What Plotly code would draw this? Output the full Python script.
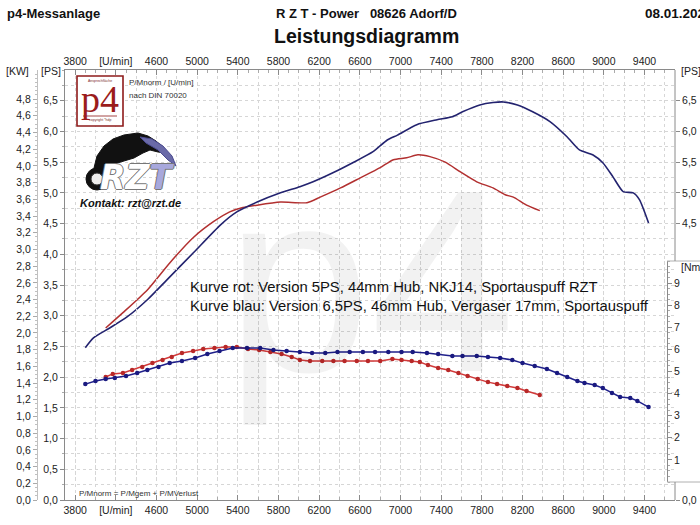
import plotly.graph_objects as go

# ---------------- data ----------------
blue_power_rpm = [3900, 3980, 4140, 4310, 4510, 4700, 4960, 5230, 5390, 5590, 5820, 6010, 6140,
                  6340, 6530, 6730, 6870, 6970, 7160, 7360, 7510, 7610, 7780, 7910, 8010, 8150,
                  8300, 8470, 8640, 8760, 8890, 8990, 9090, 9190, 9290, 9350, 9440]
blue_power_ps = [2.48, 2.64, 2.80, 2.98, 3.26, 3.58, 4.02, 4.48, 4.69, 4.85, 5.00, 5.10, 5.18,
                 5.33, 5.49, 5.67, 5.86, 5.94, 6.11, 6.19, 6.24, 6.32, 6.43, 6.47, 6.48, 6.43,
                 6.32, 6.16, 5.91, 5.70, 5.62, 5.49, 5.26, 5.02, 5.00, 4.89, 4.51]

red_power_rpm = [4100, 4270, 4510, 4730, 4960, 5160, 5320, 5450, 5590, 5820, 6080, 6210, 6410,
                 6600, 6800, 6930, 7060, 7170, 7290, 7440, 7590, 7750, 7910, 8030, 8110, 8240, 8370]
red_power_ps = [2.80, 3.05, 3.42, 3.86, 4.27, 4.53, 4.69, 4.76, 4.80, 4.85, 4.84, 4.93, 5.08,
                5.24, 5.41, 5.54, 5.57, 5.62, 5.59, 5.50, 5.34, 5.18, 5.08, 4.97, 4.93, 4.80, 4.71]

blue_torque_rpm = [3900, 4000, 4100, 4190, 4300, 4410, 4510, 4620, 4730, 4850, 4980, 5100, 5220,
                   5350, 5490, 5620, 5750, 5880, 6010, 6130, 6260, 6380, 6500, 6630, 6750, 6880,
                   7010, 7120, 7260, 7370, 7510, 7610, 7750, 7860, 7980, 8100, 8200, 8320, 8440,
                   8540, 8640, 8740, 8810, 8910, 8990, 9080, 9160, 9260, 9330, 9440]
blue_torque_nm = [4.43, 4.57, 4.66, 4.71, 4.80, 4.93, 5.07, 5.20, 5.38, 5.48, 5.61, 5.79, 5.93,
                  6.06, 6.06, 6.06, 5.97, 5.93, 5.88, 5.84, 5.84, 5.88, 5.88, 5.88, 5.88, 5.88,
                  5.88, 5.88, 5.84, 5.79, 5.70, 5.70, 5.70, 5.66, 5.61, 5.52, 5.38, 5.25, 5.11,
                  4.93, 4.75, 4.57, 4.48, 4.39, 4.25, 4.03, 3.85, 3.80, 3.67, 3.39]

red_torque_rpm = [4100, 4170, 4270, 4360, 4460, 4560, 4660, 4750, 4850, 4960, 5060, 5170, 5280,
                  5390, 5500, 5610, 5720, 5830, 5930, 6010, 6110, 6230, 6340, 6450, 6570, 6680,
                  6800, 6920, 7010, 7110, 7190, 7270, 7370, 7470, 7570, 7660, 7760, 7860, 7950,
                  8050, 8150, 8240, 8370]
red_torque_nm = [4.75, 4.89, 4.93, 5.07, 5.20, 5.38, 5.52, 5.66, 5.84, 5.93, 6.02, 6.06, 6.11,
                 6.11, 6.02, 5.97, 5.88, 5.79, 5.66, 5.52, 5.48, 5.48, 5.48, 5.48, 5.48, 5.48,
                 5.48, 5.57, 5.52, 5.48, 5.43, 5.29, 5.16, 5.07, 4.93, 4.80, 4.66, 4.52, 4.43,
                 4.34, 4.25, 4.12, 3.94]

rpm_ticks = [3800, 4200, 4600, 5000, 5400, 5800, 6200, 6600, 7000, 7400, 7800, 8200, 8600, 9000, 9400]
rpm_labels = ["3800", "[U/min]", "4600", "5000", "5400", "5800", "6200", "6600", "7000",
              "7400", "7800", "8200", "8600", "9000", "9400"]
ps_ticks = [0, 0.5, 1.0, 1.5, 2.0, 2.5, 3.0, 3.5, 4.0, 4.5, 5.0, 5.5, 6.0, 6.5]
ps_labels = ["0,0", "0,5", "1,0", "1,5", "2,0", "2,5", "3,0", "3,5", "4,0", "4,5", "5,0",
             "5,5", "6,0", "6,5"]
kw_ticks = [0, 0.2, 0.4, 0.6, 0.8, 1.0, 1.2, 1.4, 1.6, 1.8, 2.0, 2.2, 2.4, 2.6, 2.8, 3.0,
            3.2, 3.4, 3.6, 3.8, 4.0, 4.2, 4.4, 4.6, 4.8]
kw_labels = ["0,0", "0,2", "0,4", "0,6", "0,8", "1,0", "1,2", "1,4", "1,6", "1,8", "2,0",
             "2,2", "2,4", "2,6", "2,8", "3,0", "3,2", "3,4", "3,6", "3,8", "4,0", "4,2",
             "4,4", "4,6", "4,8"]
ps_right_ticks = [0, 4.5, 5.0, 5.5, 6.0, 6.5]
ps_right_labels = ["0,0", "4,5", "5,0", "5,5", "6,0", "6,5"]
nm_ticks = [1, 2, 3, 4, 5, 6, 7, 8, 9]
nm_labels = ["1", "2", "3", "4", "5", "6", "7", "8", "9"]

# ---------------- layout helpers ----------------
W, H = 700, 525
ML, MR, MT, MB = 37, 25, 70, 25
PW, PH = W - ML - MR, H - MT - MB


def fx(px):
    return (px - ML) / PW


def fy(py):
    return (H - MB - py) / PH


FONT = "Arial, Liberation Sans, sans-serif"
GRID = "#d6d6d6"
AX = "#8a8a8a"

fig = go.Figure()

fig.add_trace(go.Scatter(x=red_power_rpm, y=red_power_ps, mode="lines",
                         line=dict(color="#b23030", width=1.5, shape="spline", smoothing=0.6),
                         xaxis="x", yaxis="y", hoverinfo="skip"))
fig.add_trace(go.Scatter(x=blue_power_rpm, y=blue_power_ps, mode="lines",
                         line=dict(color="#23236f", width=1.6, shape="spline", smoothing=0.6),
                         xaxis="x", yaxis="y", hoverinfo="skip"))
fig.add_trace(go.Scatter(x=red_torque_rpm, y=red_torque_nm, mode="lines+markers",
                         line=dict(color="#d23a3a", width=1.5),
                         marker=dict(color="#b82828", size=4.5),
                         xaxis="x", yaxis="y4", hoverinfo="skip"))
fig.add_trace(go.Scatter(x=blue_torque_rpm, y=blue_torque_nm, mode="lines+markers",
                         line=dict(color="#1f1f8a", width=1.5),
                         marker=dict(color="#1a1a80", size=4.5),
                         xaxis="x", yaxis="y4", hoverinfo="skip"))
# empty traces so that every axis is drawn
fig.add_trace(go.Scatter(x=[None], y=[None], xaxis="x", yaxis="y3", showlegend=False))
fig.add_trace(go.Scatter(x=[None], y=[None], xaxis="x", yaxis="y2", showlegend=False))
fig.add_trace(go.Scatter(x=[None], y=[None], xaxis="x2", yaxis="y", showlegend=False))

tickfont = dict(family=FONT, size=10.5, color="#222")

fig.update_layout(
    width=W, height=H,
    margin=dict(l=ML, r=MR, t=MT, b=MB, pad=0, autoexpand=False),
    paper_bgcolor="white", plot_bgcolor="rgba(0,0,0,0)",
    showlegend=False, hovermode=False,
    font=dict(family=FONT, size=10.5, color="#222"),
    xaxis=dict(domain=[fx(65), 1], range=[3700, 9700], anchor="y", automargin=False,
               tickmode="array", tickvals=rpm_ticks, ticktext=rpm_labels, tickfont=tickfont,
               ticks="inside", ticklen=5, tickcolor=AX, showline=True, linecolor=AX,
               showgrid=True, gridcolor=GRID, griddash="dot", gridwidth=1, zeroline=False,
               minor=dict(tick0=3800, dtick=200, showgrid=True, gridcolor=GRID, griddash="dot",
                          ticks="inside", ticklen=3, tickcolor="#aaa")),
    xaxis2=dict(overlaying="x", side="top", anchor="y", range=[3700, 9700], automargin=False,
                tickmode="array", tickvals=rpm_ticks, ticktext=rpm_labels, tickfont=tickfont,
                ticks="inside", ticklen=5, tickcolor=AX, showline=True, linecolor=AX,
                showgrid=False, zeroline=False,
                minor=dict(tick0=3800, dtick=100, ticks="inside", ticklen=3, tickcolor="#aaa")),
    yaxis=dict(range=[0, 7], anchor="x", automargin=False, tickmode="array", tickvals=ps_ticks,
               ticktext=ps_labels, tickfont=tickfont, ticks="outside", ticklen=4,
               tickcolor=AX, showline=True, linecolor=AX, showgrid=True, gridcolor=GRID,
               griddash="dot", zeroline=False,
               minor=dict(dtick=0.25, showgrid=True, gridcolor=GRID, griddash="dot",
                          ticks="outside", ticklen=2, tickcolor="#aaa")),
    yaxis2=dict(overlaying="y", anchor="free", position=0, side="left", automargin=False,
                range=[0, 7 * 0.7355], tickmode="array", tickvals=kw_ticks, ticktext=kw_labels,
                tickfont=tickfont, ticks="outside", ticklen=4, tickcolor="#aaa",
                showline=True, linecolor="#c0c0c0", showgrid=False, zeroline=False,
                minor=dict(dtick=0.05, ticks="outside", ticklen=2, tickcolor="#c0c0c0")),
    yaxis3=dict(overlaying="y", anchor="x", side="right", range=[0, 7], automargin=False,
                tickmode="array", tickvals=ps_right_ticks, ticktext=ps_right_labels,
                tickfont=tickfont, ticks="outside", ticklen=4, tickcolor=AX,
                showline=False, showgrid=False, zeroline=False),
    yaxis4=dict(domain=[fy(482), fy(261)], anchor="free", position=fx(667), side="right",
                automargin=False,
                range=[0, 10], tickmode="array", tickvals=nm_ticks, ticktext=nm_labels,
                tickfont=tickfont, ticks="outside", ticklen=4, tickcolor=AX,
                showline=True, linecolor=AX, showgrid=False, zeroline=False,
                minor=dict(dtick=0.25, ticks="outside", ticklen=2, tickcolor="#aaa")),
)

shapes = []
# white box for the torque scale
shapes.append(dict(type="rect", xref="paper", yref="paper", x0=fx(667), x1=fx(712),
                   y0=fy(482), y1=fy(261), fillcolor="white", line=dict(width=0),
                   layer="between"))
shapes.append(dict(type="line", xref="paper", yref="paper", x0=fx(667), x1=fx(712),
                   y0=fy(261), y1=fy(261), line=dict(color="#b0b0b0", width=1)))
shapes.append(dict(type="line", xref="paper", yref="paper", x0=fx(667), x1=fx(712),
                   y0=fy(482), y1=fy(482), line=dict(color="#b0b0b0", width=1)))
# right frame line (interrupted by torque box)
shapes.append(dict(type="line", xref="paper", yref="paper", x0=1, x1=1, y0=fy(261), y1=1,
                   line=dict(color=AX, width=1)))
shapes.append(dict(type="line", xref="paper", yref="paper", x0=1, x1=1, y0=0, y1=fy(482),
                   line=dict(color=AX, width=1)))
# p4 logo box
shapes.append(dict(type="rect", xref="paper", yref="paper", x0=fx(77), x1=fx(123),
                   y0=fy(126), y1=fy(76), fillcolor="white",
                   line=dict(color="#8e1b1b", width=1.6), layer="above"))
shapes.append(dict(type="line", xref="paper", yref="paper", x0=fx(83), x1=fx(117),
                   y0=fy(116), y1=fy(116), line=dict(color="#8e1b1b", width=0.8),
                   layer="above"))


def path_from(points):
    s = "M " + " L ".join(f"{fx(a):.5f},{fy(b):.5f}" for a, b in points) + " Z"
    return s


# RZT rider silhouette (decorative)
rider = [(94, 168), (97, 156), (104, 146), (113, 139), (124, 135), (138, 133), (148, 136),
         (156, 141), (163, 147), (166, 153), (158, 152), (150, 150), (143, 153), (134, 158),
         (124, 161), (114, 164), (106, 170), (99, 173)]
shapes.append(dict(type="path", xref="paper", yref="paper", path=path_from(rider),
                   fillcolor="#111", line=dict(color="#111", width=1), layer="above"))
streak = [(140, 137), (152, 139), (163, 146), (172, 156), (176, 166), (168, 160), (158, 150),
          (146, 143)]
shapes.append(dict(type="path", xref="paper", yref="paper", path=path_from(streak),
                   fillcolor="#6a6aa8", line=dict(color="#4b4b90", width=1), layer="above"))
shapes.append(dict(type="circle", xref="paper", yref="paper", x0=fx(86), x1=fx(108),
                   y0=fy(190), y1=fy(168), fillcolor="#111", line=dict(color="#111", width=1),
                   layer="above"))
shapes.append(dict(type="circle", xref="paper", yref="paper", x0=fx(91), x1=fx(103),
                   y0=fy(185), y1=fy(173), fillcolor="#eee", line=dict(color="#333", width=1),
                   layer="above"))
fig.update_layout(shapes=shapes)

ann = []


def add(text, px, py, size, xanchor="left", color="#111", family=FONT, **kw):
    ann.append(dict(text=text, x=fx(px), y=fy(py), xref="paper", yref="paper",
                    xanchor=xanchor, yanchor="middle", showarrow=False,
                    font=dict(family=family, size=size, color=color), **kw))


add("p4", 370, 282, 260, xanchor="center", color="rgba(0,0,0,0.05)")
add("<b>p4-Messanlage</b>", 5, 14, 13)
add("<b>R Z T - Power\u00a0\u00a0\u00a008626 Adorf/D</b>", 274, 14, 13)
add("<b>08.01.2021</b>", 643, 14, 13.5)
add("<b>Leistungsdiagramm</b>", 366, 36, 19.5, xanchor="center")
add("[KW]", 31, 71, 10.5, xanchor="right", color="#222")
add("[PS]", 63, 71, 10.5, xanchor="right", color="#222")
add("[PS]", 679, 71, 10.5, color="#222")
add("[Nm]", 679, 267, 10.5, color="#222")
add("P/Mnorm / [U/min]", 127, 83, 8, color="#333")
add("nach DIN 70020", 127, 95, 8, color="#333")
add("p4", 100, 99, 38, xanchor="center", color="#9b1c1c", family="Liberation Serif, serif")
add("Ansprechfläche", 100, 81, 3.5, xanchor="center", color="#7a2a2a")
add("copyright *hdp", 100, 120, 3.5, xanchor="center", color="#7a2a2a")
add("<b><i>RZ<span style='color:#a8a8dc'>T</span></i></b>", 137, 177, 33, xanchor="center",
    color="#ffffff", family="DejaVu Sans, sans-serif")
ann[-1]["font"]["shadow"] = ("-1px 0 0 #777, 1px 0 0 #777, 0 -1px 0 #777, 0 1px 0 #777")
add("<b><i>Kontakt: rzt@rzt.de</i></b>", 78, 203, 11)
add("Kurve rot: Version 5PS, 44mm Hub, NKJ14, Sportauspuff RZT", 188, 287, 14.8)
add("Kurve blau: Version 6,5PS, 46mm Hub, Vergaser 17mm, Sportauspuff", 188, 306, 14.8)
add("P/Mnorm = P/Mgem + P/MVerlust", 77, 493, 8, color="#333")

fig.update_layout(annotations=ann)

fig.write_html("out.html", config={"displayModeBar": False, "staticPlot": True},
               post_script="document.body.style.margin='0';document.body.style.overflow='hidden';")
